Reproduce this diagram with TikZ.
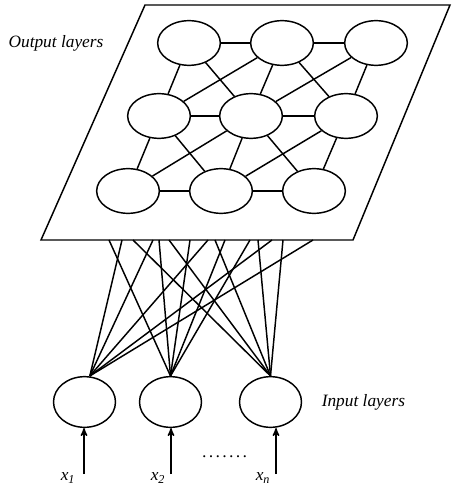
\documentclass[tikz,border=0pt]{standalone}
\usepackage{fontspec}
\setmainfont{Liberation Serif}
\usetikzlibrary{arrows,shapes.geometric,positioning}
\tikzstyle{neuron} = [ellipse, draw=black, line width=1.1pt, minimum width=47pt, minimum height=33.5pt, inner sep=0pt]
\tikzstyle{inNeuron} = [neuron, minimum width=46.5pt, minimum height=38pt]
\tikzstyle{plane} = [draw=black, line width=1.1pt]
\tikzstyle{link} = [line width=1.1pt, draw=black]
\tikzstyle{arrowIn} = [line width=1.1pt, ->, >=stealth', draw=black]
\tikzstyle{lblNode} = [font=\fontsize{13}{15}\selectfont\itshape, inner sep=0pt]
\tikzstyle{varNode} = [font=\fontsize{13}{15}\selectfont\itshape, inner sep=0pt]

\begin{document}
\begin{tikzpicture}[x=0.75pt, y=-0.75pt]
        \useasboundingbox (0,0) rectangle (451,488);
        % output plane
        \coordinate (pBL) at (41,240);
        \coordinate (pBR) at (353,240);
        \coordinate (pTR) at (450,5);
        \coordinate (pTL) at (145,5);
        \draw [plane] (pBL) -- (pBR) -- (pTR) -- (pTL) -- cycle;
        
        \node (outLbl) [lblNode] at (56,43) {Output layers};
        
        % output neurons
        \node (o11) [neuron] at (189,43) {};
        \node (o12) [neuron] at (282,43) {};
        \node (o13) [neuron] at (376,43) {};
        \node (o21) [neuron] at (159,116) {};
        \node (o22) [neuron] at (251,116) {};
        \node (o23) [neuron] at (346,116) {};
        \node (o31) [neuron] at (128,191) {};
        \node (o32) [neuron] at (221,191) {};
        \node (o33) [neuron] at (314,191) {};
        
        \draw [link] (o11) -- (o12);
        \draw [link] (o12) -- (o13);
        \draw [link] (o21) -- (o22);
        \draw [link] (o22) -- (o23);
        \draw [link] (o31) -- (o32);
        \draw [link] (o32) -- (o33);
        
        \draw [link] (o11) -- (o21);
        \draw [link] (o12) -- (o22);
        \draw [link] (o13) -- (o23);
        \draw [link] (o21) -- (o31);
        \draw [link] (o22) -- (o32);
        \draw [link] (o23) -- (o33);
        
        \draw [link] (o11) -- (o22);
        \draw [link] (o12) -- (o23);
        \draw [link] (o21) -- (o32);
        \draw [link] (o22) -- (o33);
        \draw [link] (o21) -- (o12);
        \draw [link] (o22) -- (o13);
        \draw [link] (o31) -- (o22);
        \draw [link] (o32) -- (o23);
        
        % input neurons
        \node (i1) [inNeuron] at (84.5,402) {};
        \node (i2) [inNeuron] at (170.5,402) {};
        \node (i3) [inNeuron] at (270.5,402) {};
        \node (inLbl) [lblNode, right=of i3, xshift=-14pt] {Input layers};
        
        % ends on the plane edge
        \coordinate (b1) at (109,240);
        \coordinate (b2) at (122,240);
        \coordinate (b3) at (133,240);
        \coordinate (b4) at (153,240);
        \coordinate (b5) at (159,240);
        \coordinate (b6) at (169,240);
        \coordinate (b7) at (190,240);
        \coordinate (b8) at (208,240);
        \coordinate (b9) at (215,240);
        \coordinate (b10) at (225,240);
        \coordinate (b11) at (250,240);
        \coordinate (b12) at (258,240);
        \coordinate (b13) at (272,240);
        \coordinate (b14) at (283,240);
        \coordinate (b15) at (313,240);
        
        \draw [link] ([xshift=4pt]i1.north) -- (b2);
        \draw [link] ([xshift=4pt]i1.north) -- (b4);
        \draw [link] ([xshift=4pt]i1.north) -- (b8);
        \draw [link] ([xshift=4pt]i1.north) -- (b13);
        \draw [link] ([xshift=4pt]i1.north) -- (b15);
        \draw [link] (i2.north) -- (b1);
        \draw [link] (i2.north) -- (b5);
        \draw [link] (i2.north) -- (b7);
        \draw [link] (i2.north) -- (b10);
        \draw [link] (i2.north) -- (b11);
        \draw [link] (i3.north) -- (b3);
        \draw [link] (i3.north) -- (b6);
        \draw [link] (i3.north) -- (b9);
        \draw [link] (i3.north) -- (b12);
        \draw [link] (i3.north) -- (b14);
        
        % inputs
        \coordinate (a1) at (84,474);
        \coordinate (a2) at (171,474);
        \coordinate (a3) at (276,474);
        \draw [arrowIn] (a1) -- (a1 |- i1.south);
        \draw [arrowIn] (a2) -- (a2 |- i2.south);
        \draw [arrowIn] (a3) -- (a3 |- i3.south);
        
        \node (x1) [varNode] at (68,478) {x\textsubscript{1}};
        \node (x2) [varNode] at (158,478) {x\textsubscript{2}};
        \node (xn) [varNode] at (263,478) {x\textsubscript{n}};
        \node (dots) [varNode] at (225,457) {.\kern1.8pt.\kern1.8pt.\kern1.8pt.\kern1.8pt.\kern1.8pt.\kern1.8pt.};
        
        \end{tikzpicture}
\end{document}
